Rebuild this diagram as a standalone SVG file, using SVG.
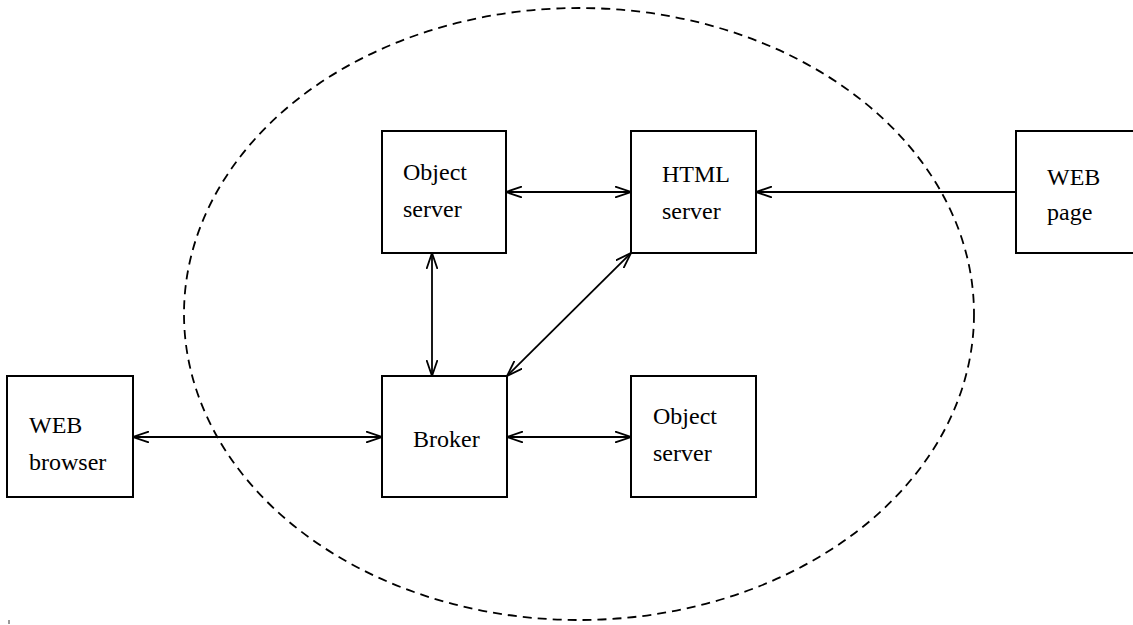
<svg xmlns="http://www.w3.org/2000/svg" width="1133" height="625" viewBox="0 0 1133 625">
<style>
.box{fill:#fff;stroke:#000;stroke-width:2}
.lbl{font-family:"Liberation Serif","Times New Roman",serif;font-size:24px;fill:#000}
.con{stroke:#000;stroke-width:1.8;fill:none;marker-end:url(#ah)}
.bi{marker-start:url(#ahs)}
</style>
<defs>
<marker id="ah" viewBox="0 0 16 12" refX="16" refY="6" markerWidth="16" markerHeight="12" markerUnits="userSpaceOnUse" orient="auto">
<path d="M0,0.5 L16,6 L0,11.5" fill="none" stroke="#000" stroke-width="1.8"/>
</marker>
<marker id="ahs" viewBox="0 0 16 12" refX="0" refY="6" markerWidth="16" markerHeight="12" markerUnits="userSpaceOnUse" orient="auto">
<path d="M16,0.5 L0,6 L16,11.5" fill="none" stroke="#000" stroke-width="1.8"/>
</marker>
</defs>
<rect width="1133" height="625" fill="#fff"/>
<ellipse id="boundary" cx="579" cy="314" rx="395" ry="306" fill="none" stroke="#000" stroke-width="1.8" stroke-dasharray="9 6"/>
<g id="connectors">
<line class="con bi" x1="506" y1="192" x2="631" y2="192"/>
<line class="con" x1="1016" y1="192" x2="756" y2="192"/>
<line class="con bi" x1="432" y1="253" x2="432" y2="376"/>
<line class="con bi" x1="631" y1="253" x2="507" y2="376"/>
<line class="con bi" x1="133" y1="437" x2="382" y2="437"/>
<line class="con bi" x1="507" y1="437" x2="631" y2="437"/>
</g>
<g id="object-server-1">
<rect class="box" x="382" y="131" width="124" height="122"/>
<text class="lbl" x="403" y="180">Object</text>
<text class="lbl" x="403" y="217">server</text>
</g>
<g id="html-server">
<rect class="box" x="631" y="131" width="125" height="122"/>
<text class="lbl" x="662" y="182">HTML</text>
<text class="lbl" x="662" y="219">server</text>
</g>
<g id="web-page">
<rect class="box" x="1016" y="131" width="130" height="122"/>
<text class="lbl" x="1047" y="185">WEB</text>
<text class="lbl" x="1047" y="220">page</text>
</g>
<g id="web-browser">
<rect class="box" x="7" y="376" width="126" height="121"/>
<text class="lbl" x="29" y="433">WEB</text>
<text class="lbl" x="29" y="470">browser</text>
</g>
<g id="broker">
<rect class="box" x="382" y="376" width="125" height="121"/>
<text class="lbl" x="413" y="447">Broker</text>
</g>
<g id="object-server-2">
<rect class="box" x="631" y="376" width="125" height="121"/>
<text class="lbl" x="653" y="424">Object</text>
<text class="lbl" x="653" y="461">server</text>
</g>
<line x1="9" y1="620" x2="9" y2="624" stroke="#000" stroke-width="0.8"/>
</svg>
